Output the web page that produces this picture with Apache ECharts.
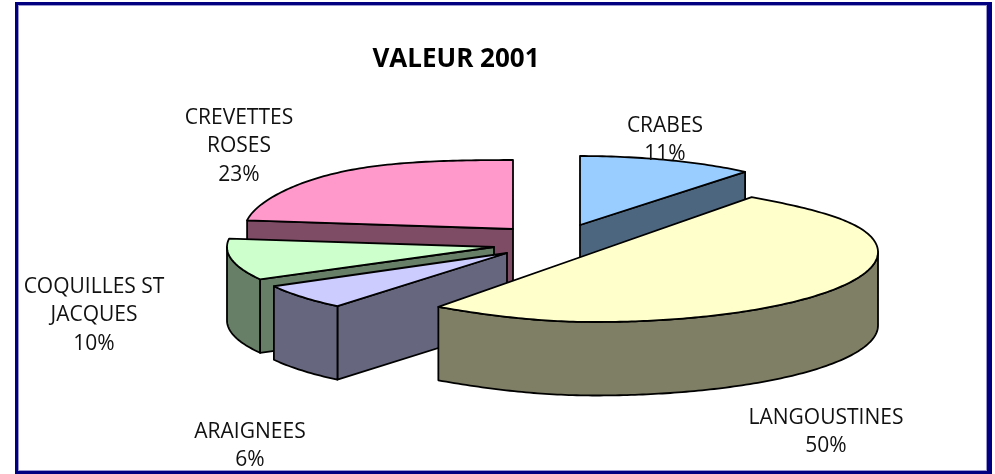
<!DOCTYPE html>
<html><head><meta charset="utf-8">
<style>html,body{margin:0;padding:0;background:#fff}#c{width:995px;height:474px}</style>
<script src="https://cdn.jsdelivr.net/npm/echarts@6/dist/echarts.min.js"></script>
</head><body><div id="c"></div>
<script>
var chartTitle = 'VALEUR 2001';
var categories = ['CRABES', 'LANGOUSTINES', 'ARAIGNEES', 'COQUILLES ST\nJACQUES', 'CREVETTES\nROSES'];
var values = [11, 50, 6, 10, 23];
var topColors = ['#99CCFF', '#FFFFCC', '#CCCCFF', '#CCFFCC', '#FF99CC'];
var sideColors = ['#4C667F', '#7F7F66', '#66667F', '#667F66', '#7F4C66'];

// Projection of each exploded slice: apex position, radii, angle warp (deg), depth squash per diagonal
var geom = [
  {ax: 580, ay: 225, rx: 259, ry: 69, warp: 0, q1: 0, q2: 0},
  {ax: 595, ay: 252, rx: 283, ry: 70, warp: 6.1, q1: 0.07, q2: 0},
  {ax: 507, ay: 253, rx: 266, ry: 69, warp: 0, q1: 0, q2: 0},
  {ax: 494, ay: 247, rx: 267, ry: 67, warp: 0, q1: 0, q2: 0},
  {ax: 513, ay: 229, rx: 268, ry: 69, warp: 0, q1: 0, q2: -0.08}
];
var depth = 73.5;
var drawOrder = [4, 0, 3, 2, 1];
var labelPos = [[665, 126], [826, 418], [250, 432], [94, 287], [239, 118]];
var labelLine = 28.5;

var total = values.reduce(function (a, b) { return a + b; }, 0);
var starts = [], acc = 0;
values.forEach(function (v) { starts.push(acc); acc += v / total * 360; });

function pt(g, deg) {
  var phi = (deg - g.warp * Math.sin(2 * deg * Math.PI / 180)) * Math.PI / 180;
  var s2 = Math.sin(2 * phi);
  var f = 1 - (s2 > 0 ? g.q1 : g.q2) * s2 * s2;
  return [g.ax + g.rx * Math.sin(phi), g.ay - g.ry * f * Math.cos(phi)];
}
function arc(g, a, b) {
  var out = [], steps = Math.max(2, Math.ceil(Math.abs(b - a)));
  for (var i = 0; i <= steps; i++) out.push(pt(g, a + (b - a) * i / steps));
  return out;
}
function down(p) { return [p[0], p[1] + depth]; }
function poly(points, fill) {
  return {type: 'polygon', shape: {points: points},
          style: {fill: fill, stroke: '#000', lineWidth: 1.8, lineJoin: 'round'}};
}
function renderSlice(params, api) {
  var i = api.value(0), g = geom[i];
  var a = starts[i], b = a + values[i] / total * 360;
  var apex = [g.ax, g.ay], kids = [];
  var side = sideColors[i];
  var add = function (p) { kids.push(poly(p, side)); };
  var pa = pt(g, a), pb = pt(g, b);
  if (Math.cos((a - 90) * Math.PI / 180) < -0.01) add([apex, pa, down(pa), down(apex)]);
  if (Math.cos((b + 90) * Math.PI / 180) < -0.01) add([apex, pb, down(pb), down(apex)]);
  var lo = Math.max(a, 90), hi = Math.min(b, 270);
  if (hi > lo) {
    var top = arc(g, lo, hi);
    add(top.concat(top.slice().reverse().map(down)));
  }
  kids.push(poly([apex].concat(arc(g, a, b)), topColors[i]));
  return {type: 'group', children: kids};
}
function renderLabel(params, api) {
  var i = api.value(0);
  return {type: 'text', x: labelPos[i][0], y: labelPos[i][1] - labelLine / 2, z2: 10,
    style: {text: categories[i] + '\n' + values[i] + '%', align: 'center', verticalAlign: 'top',
      fill: '#111', font: '21px "Open Sans"', lineHeight: labelLine}};
}
function bar(x, y, w, h, c) {
  return {type: 'rect', shape: {x: x, y: y, width: w, height: h}, style: {fill: c}, silent: true};
}
var chart = echarts.init(document.getElementById('c'), null, {renderer: 'canvas'});
chart.setOption({
  animation: false,
  backgroundColor: '#fff',
  title: {text: chartTitle, left: 451, top: 42, textAlign: 'center',
    textStyle: {fontFamily: 'Open Sans', fontSize: 26, fontWeight: 'bold', color: '#000'}},
  graphic: [
    bar(18, 5, 969, 1, '#9999d0'), bar(18, 470, 969, 1, '#9999d0'),
    bar(18, 5, 1, 466, '#9999d0'), bar(986, 5, 1, 466, '#9999d0'),
    bar(15, 2, 977, 3, '#000080'), bar(15, 471, 977, 3, '#000080'),
    bar(15, 2, 3, 472, '#000080'), bar(987, 2, 5, 472, '#000080')
  ],
  series: [
    {type: 'custom', coordinateSystem: 'none', silent: true, renderItem: renderSlice,
     data: drawOrder.map(function (i) { return [i]; })},
    {type: 'custom', coordinateSystem: 'none', silent: true, renderItem: renderLabel, z: 5,
     data: categories.map(function (c, i) { return [i]; })}
  ]
});
</script></body></html>
